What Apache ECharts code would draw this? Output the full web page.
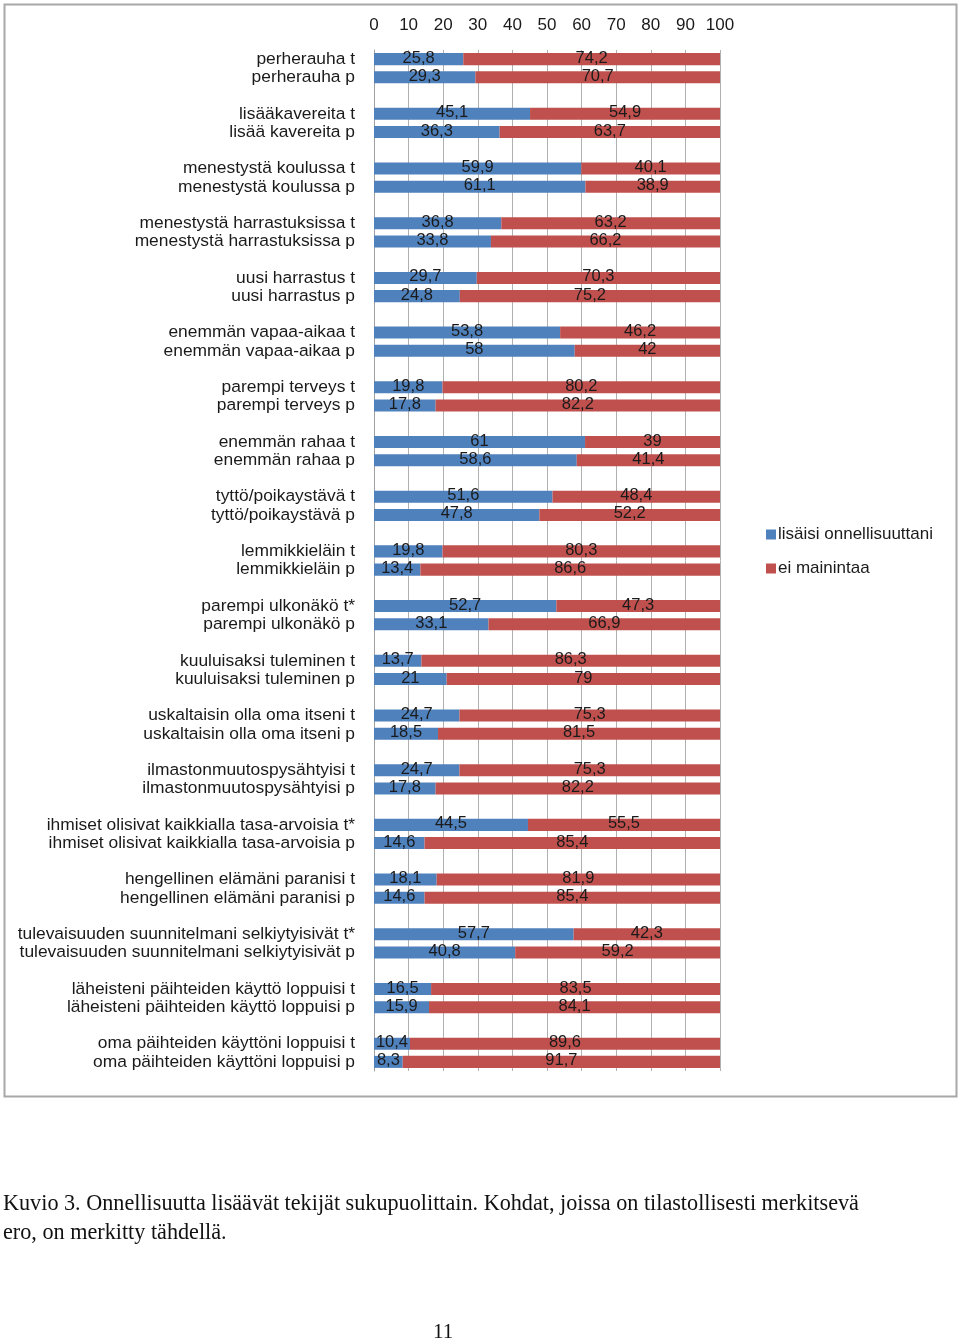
<!DOCTYPE html>
<html><head><meta charset="utf-8">
<script src="https://cdn.jsdelivr.net/npm/echarts@6/dist/echarts.min.js"></script>
<style>html,body{margin:0;padding:0;background:#fff}#c{width:960px;height:1343px}</style>
</head><body><div id="c"></div>
<script>
var items = ["perherauha","lisääkavereita|lisää kavereita","menestystä koulussa","menestystä harrastuksissa","uusi harrastus","enemmän vapaa-aikaa","parempi terveys","enemmän rahaa","tyttö/poikaystävä","lemmikkieläin","parempi ulkonäkö","kuuluisaksi tuleminen","uskaltaisin olla oma itseni","ilmastonmuutospysähtyisi","ihmiset olisivat kaikkialla tasa-arvoisia","hengellinen elämäni paranisi","tulevaisuuden suunnitelmani selkiytyisivät","läheisteni päihteiden käyttö loppuisi","oma päihteiden käyttöni loppuisi"];
var starred = [false,false,false,false,false,false,false,false,false,false,true,false,false,false,true,false,true,false,false];
var happyT = [25.8,45.1,59.9,36.8,29.7,53.8,19.8,61,51.6,19.8,52.7,13.7,24.7,24.7,44.5,18.1,57.7,16.5,10.4];
var noneT  = [74.2,54.9,40.1,63.2,70.3,46.2,80.2,39,48.4,80.3,47.3,86.3,75.3,75.3,55.5,81.9,42.3,83.5,89.6];
var happyP = [29.3,36.3,61.1,33.8,24.8,58,17.8,58.6,47.8,13.4,33.1,21,18.5,17.8,14.6,14.6,40.8,15.9,8.3];
var noneP  = [70.7,63.7,38.9,66.2,75.2,42,82.2,41.4,52.2,86.6,66.9,79,81.5,82.2,85.4,85.4,59.2,84.1,91.7];
var xTicks = [0,10,20,30,40,50,60,70,80,90,100];
var seriesNames = ["lisäisi onnellisuuttani","ei mainintaa"];

var cats = [], s1 = [], s2 = [];
items.forEach(function(it, i){
  var parts = it.split('|');
  var tName = parts[0], pName = parts[1] || parts[0];
  cats.push(tName + ' t' + (starred[i] ? '*' : ''));
  cats.push(pName + ' p');
  s1.push(happyT[i]); s1.push(happyP[i]);
  s2.push(noneT[i]); s2.push(noneP[i]);
  if (i < items.length - 1) { cats.push(''); s1.push('-'); s2.push('-'); }
});

var chart = echarts.init(document.getElementById('c'));
var fmt = function(p){ return String(p.value).replace('.', ','); };
var lbl = {show:true, position:'inside', formatter:fmt, color:'#1a1a1a', fontSize:16.5, fontFamily:'Liberation Sans', offset:[0,-1]};
chart.setOption({
  animation:false,
  textStyle:{fontFamily:'Liberation Sans'},
  grid:{left:374, right:240, top:50, bottom:272, containLabel:false},
  xAxis:{type:'value', position:'top', min:0, max:100, interval:10,
    axisLine:{show:false}, axisTick:{show:false},
    splitLine:{show:true, lineStyle:{color:'#b0b0b0', width:1}},
    axisLabel:{color:'#1a1a1a', fontSize:17, margin:16, formatter:function(v){return xTicks.indexOf(v) >= 0 ? String(v) : '';}}},
  yAxis:{type:'category', inverse:true, data:cats,
    axisLine:{show:true, lineStyle:{color:'#a0a0a0'}}, axisTick:{show:false},
    axisLabel:{color:'#1a1a1a', fontSize:17.4, margin:19, interval:0}},
  legend:{orient:'vertical', left:761, top:521, itemWidth:10, itemHeight:10, itemGap:17,
    icon:'rect', textStyle:{fontSize:17, color:'#1a1a1a', padding:[0,0,0,-3]}, data:seriesNames},
  series:[
    {name:seriesNames[0], type:'bar', stack:'a', data:s1, barWidth:'66%', itemStyle:{color:'#4F81BD'}, label:lbl},
    {name:seriesNames[1], type:'bar', stack:'a', data:s2, barWidth:'66%', itemStyle:{color:'#C0504D'}, label:lbl}
  ],
  graphic:[
    {type:'rect', shape:{x:4.5, y:4.5, width:952, height:1092}, style:{fill:'none', stroke:'#a8a8a8', lineWidth:2}, silent:true, z:-1},
    {type:'text', left:3, top:1190, style:{text:'Kuvio 3. Onnellisuutta lisäävät tekijät sukupuolittain. Kohdat, joissa on tilastollisesti merkitsevä\nero, on merkitty tähdellä.', font:'22.2px "Liberation Serif"', fill:'#111', lineHeight:29}},
    {type:'text', left:433, top:1322, style:{text:'11', font:'21px "Liberation Serif"', fill:'#111'}}
  ]
});
</script></body></html>
